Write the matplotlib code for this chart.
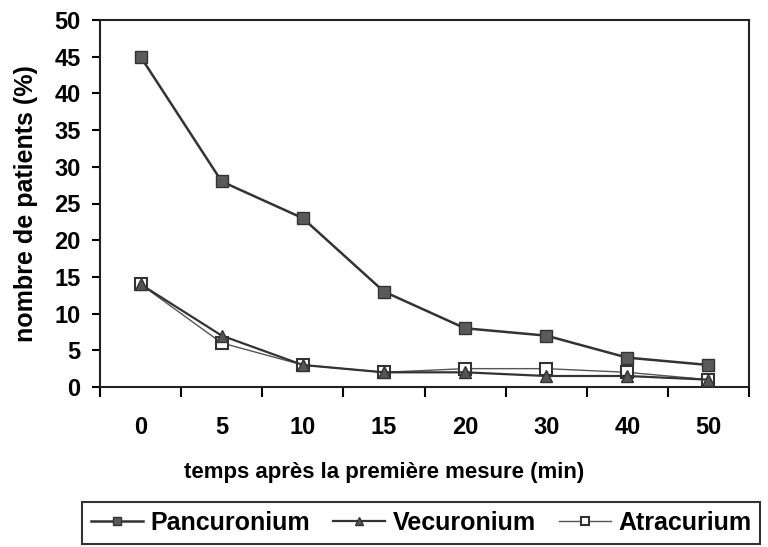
import numpy as np
import matplotlib
matplotlib.use('Agg')
import matplotlib.pyplot as plt

plt.rcParams['font.family'] = ['Liberation Sans', 'DejaVu Sans']

# time points (min) and percentages
temps = ['0', '5', '10', '15', '20', '30', '40', '50']
pancuronium = [45, 28, 23, 13, 8, 7, 4, 3]
vecuronium = [14, 7, 3, 2, 2, 1.5, 1.5, 1]
atracurium = [14, 6, 3, 2, 2.5, 2.5, 2, 1]

fig = plt.figure(figsize=(7.68, 5.47), dpi=100)
ax = fig.add_axes([100/768, 1 - 387/547, 649/768, 367/547])

x = np.arange(len(temps))
ax.plot(x, atracurium, color='#555555', lw=1.0, marker='s', ms=8,
        mfc='white', mec='#333333', mew=1.5, label='Atracurium', zorder=3)
ax.plot(x, vecuronium, color='#333333', lw=1.6, marker='^', ms=9,
        mfc='#555555', mec='#333333', label='Vecuronium', zorder=4)
ax.plot(x, pancuronium, color='#333333', lw=1.8, marker='s', ms=9,
        mfc='#5a5a5a', mec='#333333', label='Pancuronium', zorder=5)

ax.set_xlim(-0.5, len(temps) - 0.5)
ax.set_ylim(0, 50)
ax.set_yticks(np.arange(0, 51, 5))
ax.set_xticks(x)
ax.set_xticklabels(temps)
ax.set_xticks(np.arange(-0.5, len(temps)), minor=True)
ax.tick_params(axis='x', which='major', length=0, pad=21)
ax.tick_params(axis='x', which='minor', length=7, width=1.5, direction='out')
ax.tick_params(axis='y', length=6, width=1.5, direction='out', pad=8)
for lab in ax.get_xticklabels() + ax.get_yticklabels():
    lab.set_fontsize(17)
    lab.set_fontweight('bold')

for s in ax.spines.values():
    s.set_linewidth(1.5)
    s.set_color('#222222')

ax.set_xlabel('temps après la première mesure (min)', fontsize=16,
              fontweight='bold')
ax.xaxis.set_label_coords((384 - 100) / 649, -(462 - 387) / 367)
ax.set_ylabel('nombre de patients (%)', fontsize=18, fontweight='bold',
              labelpad=12)

h, l = ax.get_legend_handles_labels()
order = [2, 1, 0]
leg = fig.legend([h[i] for i in order], [l[i] for i in order],
                 loc='upper left', bbox_to_anchor=(82/768, 1 - 502/547),
                 borderaxespad=0, ncol=3, frameon=True, fancybox=False,
                 handlelength=2.1, handletextpad=0.3, columnspacing=0.9,
                 borderpad=0.35, prop={'size': 18, 'weight': 'bold'},
                 markerscale=0.7)
leg.get_frame().set_edgecolor('black')
leg.get_frame().set_linewidth(1.5)

fig.savefig('out.png', dpi=100)
